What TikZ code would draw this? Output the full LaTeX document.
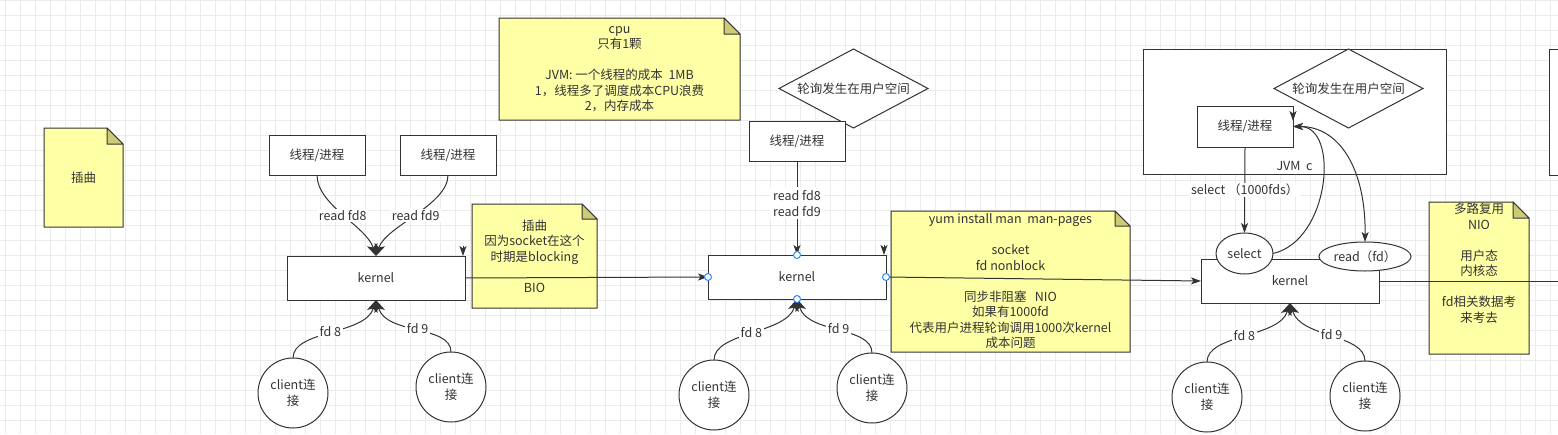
\documentclass[tikz,border=0pt]{standalone}
\usepackage{fontspec}
\setmainfont{Noto Sans CJK SC}
\usetikzlibrary{shapes.geometric,arrows.meta}
\definecolor{ink}{HTML}{333333}
\definecolor{notebody}{HTML}{FFFFA6}
\definecolor{notefoldc}{HTML}{CCCC77}
\definecolor{gridc}{HTML}{EBEBEB}
\definecolor{handlec}{HTML}{2A8CFF}
\pgfdeclarelayer{gridlayer}
\pgfdeclarelayer{background}
\pgfsetlayers{gridlayer,background,main}
\newcommand\notebg[2]{%
  \begin{pgfonlayer}{background}
    \filldraw[fill=notebody,draw=ink,line width=1pt] (#1.north west) -- ([xshift=-#2pt]#1.north east) -- ([yshift=-#2pt]#1.north east) -- (#1.south east) -- (#1.south west) -- cycle;
    \filldraw[fill=notefoldc,draw=ink,line width=1pt,line join=round] ([xshift=-#2pt]#1.north east) -- ([yshift=-#2pt]#1.north east) -- ([xshift=-#2pt,yshift=-#2pt]#1.north east) -- cycle;
  \end{pgfonlayer}}
\begin{document}
\begin{tikzpicture}[x=1pt,y=-1pt,
  every node/.style={font=\fontsize{12.5}{15.5}\selectfont, text=ink},
  box/.style={draw=ink, fill=white, line width=1pt, minimum width=96pt, minimum height=40pt, inner sep=0pt, outer sep=0pt},
  kern/.style={box, minimum width=178pt, minimum height=44pt},
  client/.style={circle, draw=ink, fill=white, line width=1pt, minimum size=70pt, inner sep=0pt, outer sep=0pt, align=center},
  dia/.style={diamond, draw=ink, fill=white, line width=1pt, aspect=1.886, minimum width=149pt, minimum height=79pt, inner sep=0pt, outer sep=0pt},
  ell/.style={ellipse, draw=ink, fill=white, line width=1pt, inner sep=0pt, outer sep=0pt},
  note/.style={align=center, inner sep=0pt, outer sep=0pt},
  edge/.style={draw=ink, line width=1pt},
  lbl/.style={fill=white, inner sep=1.5pt, align=center},
  arr/.style={edge, -{Stealth[length=10pt,width=7pt,inset=2.5pt]}},
  bigarr/.style={edge, -{Stealth[length=12pt,width=11pt,inset=3pt]}},
  dblarr/.style={edge, {Stealth[length=10pt,width=7pt,inset=2.5pt]}-{Stealth[length=10pt,width=7pt,inset=2.5pt]}},
  handle/.style={circle, draw=handlec, fill=white, line width=1pt, minimum size=7pt, inner sep=0pt},
  gridline/.style={draw=gridc, line width=0.8pt}
]
\useasboundingbox (0,0) rectangle (1558,434);
\begin{pgfonlayer}{gridlayer}
  \fill[white] (0,0) rectangle (1558,434);
  \foreach \x in {5,20,...,1555} \draw[gridline] (\x,0) -- (\x,434);
  \foreach \y in {0,15,...,434} \draw[gridline] (0,\y) -- (1558,\y);
\end{pgfonlayer}
\clip (0,0) rectangle (1558,434);

% ---------- left note
\node[note, minimum width=79pt, minimum height=99pt] (n0) at (83.5,177.5) {插曲};
\notebg{n0}{16}

% ---------- group 1 (BIO)
\node[box] (t1) at (317,155) {线程/进程};
\node[box] (t2) at (448,155) {线程/进程};
\node[kern] (k1) at (376,278) {kernel};
\node[client] (c1) at (293,393) {client连\\接};
\node[client] (c2) at (451,387) {client连\\接};
\node[note, minimum width=125pt, minimum height=104pt] (nbio) at (534.5,256) {插曲\\因为socket在这个\\时期是blocking\\{}\\BIO};
\notebg{nbio}{15}

\draw[bigarr] (t1.south) .. controls +(0,30) and +(-10,-30) .. (k1.north) node[lbl,pos=0.5]{read fd8};
\draw[bigarr] (t2.south) .. controls +(0,30) and +(10,-30) .. (k1.north) node[lbl,pos=0.5]{read fd9};
\draw[bigarr] (c1.north) .. controls +(0,-28) and +(-11,35) .. (k1.south) node[lbl,pos=0.5]{fd 8};
\draw[bigarr] (c2.north) .. controls +(0,-27) and +(11,35) .. (k1.south) node[lbl,pos=0.5]{fd 9};
\draw[arr] ([xshift=-2pt,yshift=10pt]k1.north east) -- ([xshift=-2pt]k1.north east);

% ---------- cpu note
\node[note, minimum width=241pt, minimum height=102pt] (ncpu) at (619.5,69) {cpu\\只有1颗\\{}\\JVM: 一个线程的成本~~1MB\\1，线程多了调度成本CPU浪费\\2，内存成本};
\notebg{ncpu}{16}

% ---------- group 2 (NIO)
\node[dia] (d1) at (853.5,88.5) {轮询发生在用户空间};
\node[box] (t3) at (797,141) {线程/进程};
\node[kern] (k2) at (797,277) {kernel};
\node[client] (c3) at (714,395) {client连\\接};
\node[client] (c4) at (872,388) {client连\\接};
\node[note, minimum width=239pt, minimum height=141pt] (nyum) at (1010.5,281.5) {yum install man~~man-pages\\{}\\socket\\fd nonblock\\{}\\同步非阻塞~~~NIO\\如果有1000fd\\代表用户进程轮询调用1000次kernel\\成本问题};
\notebg{nyum}{15}

\draw[arr] (k1.east) -- (k2.west);
\draw[arr] (t3.south) -- node[lbl, pos=0.45, inner sep=3pt]{read fd8\\read fd9} (k2.north);
\draw[bigarr] (c3.north) .. controls +(0,-28) and +(-11,35) .. (k2.south) node[lbl,pos=0.5]{fd 8};
\draw[bigarr] (c4.north) .. controls +(0,-27) and +(11,35) .. (k2.south) node[lbl,pos=0.5]{fd 9};
\draw[arr] ([xshift=-2pt,yshift=10pt]k2.north east) -- ([xshift=-2pt]k2.north east);

% ---------- group 3 (select)
\node[box, minimum width=303pt, minimum height=125pt, label={[anchor=south, inner sep=3pt]south:JVM~~c}] (jvm) at (1294.5,111.5) {};
\node[dia] (d2) at (1348.5,88.5) {轮询发生在用户空间};
\node[box, minimum height=41pt] (t4) at (1245,126.5) {线程/进程};
\node[kern] (k3) at (1290,281) {kernel};
\node[ell, minimum width=57pt, minimum height=41pt] (sel) at (1244.5,253.5) {select};
\node[ell, minimum width=92pt, minimum height=29pt] (rd) at (1365,256.5) {read（fd）};
\node[client] (c5) at (1207,397) {client连\\接};
\node[client] (c6) at (1365,396) {client连\\接};
\node[note, minimum width=100pt, minimum height=152pt] (nnio) at (1479,278) {多路复用\\NIO\\{}\\用户态\\内核态\\{}\\fd相关数据考\\来考去\\{}\\{}};
\notebg{nnio}{16}
\node[box, minimum width=102pt, minimum height=126pt] (rbox) at (1600,112) {};
\coordinate (offR) at (1570,281);

\draw[arr] (k2.east) -- (k3.west);
\draw[arr] (t4.south) -- node[lbl]{select （1000fds）} (sel.north);
\draw[arr] (sel.east) .. controls +(57,-13) and +(47,0) .. (t4.east);
\draw[dblarr] (t4.east) .. controls +(47,0) and +(1,-72) .. (rd.north);
\draw[arr] ([yshift=-5pt]t4.north east) -- ([yshift=-15pt]t4.north east);
\draw[bigarr] (c5.north) .. controls +(0,-28) and +(-11,35) .. (k3.south) node[lbl,pos=0.5]{fd 8};
\draw[bigarr] (c6.north) .. controls +(0,-27) and +(11,35) .. (k3.south) node[lbl,pos=0.5]{fd 9};
\draw[edge] (k3.east) -- (offR);

% connection handles on the selected kernel
\foreach \a in {north,south,east,west} \node[handle] at (k2.\a) {};
\end{tikzpicture}
\end{document}
